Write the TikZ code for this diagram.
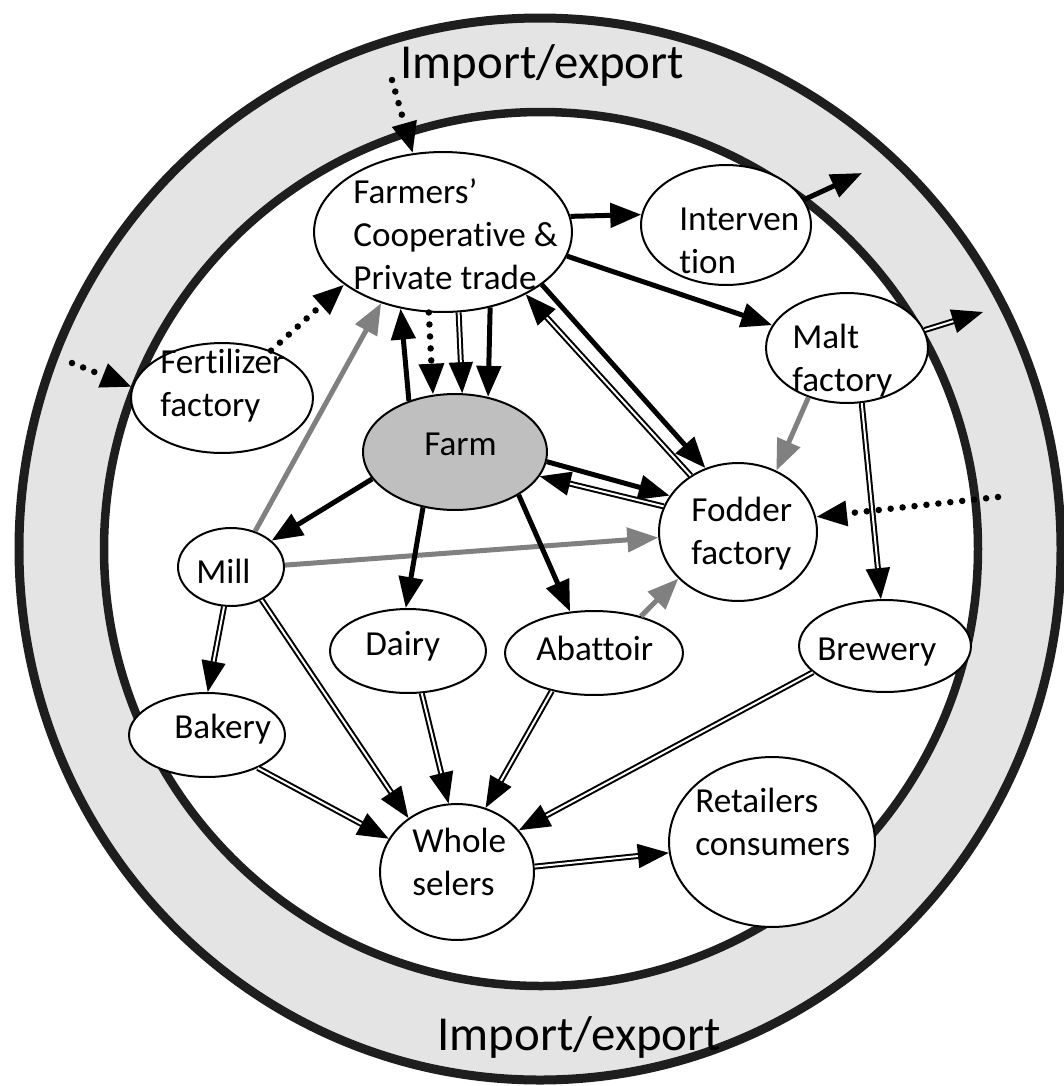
\documentclass[tikz,border=0pt]{standalone}
\usepackage{fontspec}
\setmainfont{Carlito}[Ligatures={TeX,NoCommon}]
\usepackage{xcolor}
\definecolor{ringgrey}{RGB}{228,228,228}
\definecolor{ringline}{RGB}{30,30,30}
\definecolor{farmgrey}{RGB}{191,191,191}
\definecolor{flowgrey}{RGB}{128,128,128}
\usepackage{tikz}
\usetikzlibrary{shapes.geometric}
\usetikzlibrary{arrows.meta}
\tikzset{>={Triangle[length=0.62cm,width=0.48cm]}}
\tikzset{
  oval/.style 2 args={ellipse,draw,fill=white,line width=0.04cm,inner sep=0pt,
    minimum width=#1*0.04cm,minimum height=#2*0.04cm},
  lbl/.style={anchor=base west,inner sep=0pt,font=\fontsize{20}{24.7}\selectfont},
  ringlbl/.style={anchor=base west,inner sep=0pt,font=\fontsize{27.8}{33}\selectfont},
  flow/.style={->,line width=0.1cm},
  dflow/.style={->,double,line width=0.04cm,double distance=0.04cm},
  gflow/.style={->,draw=flowgrey,line width=0.1cm},
  dotflow/.style={->,line width=0.13cm,line cap=round,dash pattern=on 0pt off 0.24cm}
}
\newcommand{\lns}[1]{\begin{tabular}[t]{@{}l@{}}#1\end{tabular}}

\begin{document}
\begin{tikzpicture}[x=0.02cm,y=-0.02cm]
  \useasboundingbox (0,0) rectangle (1064,1086);
  \draw[ringline,line width=0.18cm,fill=ringgrey] (540,549) ellipse [x radius=521,y radius=531];
  \draw[ringline,line width=0.17cm,fill=white] (541,549) circle [radius=437];

  \node[oval={129}{80}] (coop) at (443,232) {};
  \node[oval={85}{60}] (interv) at (726,225) {};
  \node[oval={81}{55}] (malt) at (847,348) {};
  \node[oval={91}{55}] (fert) at (222,398) {};
  \node[oval={92}{58},fill=farmgrey] (farm) at (455,452) {};
  \node[oval={79}{69}] (fodder) at (738,532) {};
  \node[oval={53}{39}] (mill) at (231,567) {};
  \node[oval={78}{42}] (dairy) at (408,651) {};
  \node[oval={89}{42}] (abatt) at (594,653) {};
  \node[oval={86}{46}] (brew) at (885,646) {};
  \node[oval={78}{42}] (bakery) at (207,735) {};
  \node[oval={77}{68}] (whole) at (457,872) {};
  \node[oval={103}{85}] (retail) at (772,842) {};

  \coordinate (imptop) at (392,80);
  \coordinate (impleft) at (72,363);
  \coordinate (impright) at (998,497);
  \coordinate (expint) at (862,173);
  \coordinate (expmalt) at (983,312);

  \draw[dotflow] (imptop) -- (coop.111);
  \draw[flow] (coop.7) -- (interv.173);
  \draw[flow] (interv.18) -- (expint);
  \draw[flow] (coop.-11) -- (malt.163);
  \draw[dflow] (malt.13) -- (expmalt);
  \draw[flow] (coop.-28) -- (fodder.117);
  \draw[dflow] (fodder.130) -- (coop.-37);
  \draw[flow] (farm.-6) -- (fodder.152);
  \draw[dflow] (fodder.161) -- (farm.-16);
  \draw[flow] (farm.132) -- (coop.-119);
  \draw[dotflow] (coop.-100) -- (farm.111);
  \draw[dflow] (coop.-79) -- (farm.83);
  \draw[flow] (coop.-58) -- (farm.59);
  \draw[dotflow] (fert.44) -- (coop.-152);
  \draw[dotflow] (impleft) -- (fert.173);
  \draw[gflow] (mill.56) -- (coop.-131);
  \draw[flow] (farm.-162) -- (mill.33);
  \draw[gflow] (mill.2) -- (fodder.-176);
  \draw[flow] (farm.-120) -- (dairy.93);
  \draw[flow] (farm.-34) -- (abatt.120);
  \draw[gflow] (abatt.38) -- (fodder.-142);
  \draw[gflow] (malt.-128) -- (fodder.58);
  \draw[dflow] (malt.-75) -- (brew.95);
  \draw[dotflow] (impright) -- (fodder.11);
  \draw[dflow] (mill.-100) -- (bakery.89);
  \draw[dflow] (mill.-47) -- (whole.132);
  \draw[dflow] (bakery.-33) -- (whole.154);
  \draw[dflow] (dairy.-72) -- (whole.97);
  \draw[dflow] (abatt.-138) -- (whole.66);
  \draw[dflow] (brew.-160) -- (whole.34);
  \draw[dflow] (whole.4) -- (retail.-174);

  \node[lbl] (coop-t) at (353,203) {\lns{Farmers’\\Cooperative \&\\Private trade}};
  \node[lbl] (interv-t) at (679,230) {\lns{Interven\\tion}};
  \node[lbl] (malt-t) at (792,348) {\lns{Malt\\factory}};
  \node[lbl] (fert-t) at (160,373) {\lns{Fertilizer\\factory}};
  \node[lbl] (farm-t) at (424,455) {Farm};
  \node[lbl] (fodder-t) at (691,521) {\lns{Fodder\\factory}};
  \node[lbl] (mill-t) at (196,583) {Mill};
  \node[lbl] (dairy-t) at (365,655) {Dairy};
  \node[lbl] (abatt-t) at (536,660) {Abattoir};
  \node[lbl] (brew-t) at (817,660) {Brewery};
  \node[lbl] (bakery-t) at (174,738) {Bakery};
  \node[lbl] (whole-t) at (412,852) {\lns{Whole\\selers}};
  \node[lbl] (retail-t) at (695,812) {\lns{Retailers\\consumers}};
  \node[ringlbl] (imp-top) at (400,78) {Import/export};
  \node[ringlbl] (imp-bot) at (437,1050) {Import/export};
\end{tikzpicture}
\end{document}
